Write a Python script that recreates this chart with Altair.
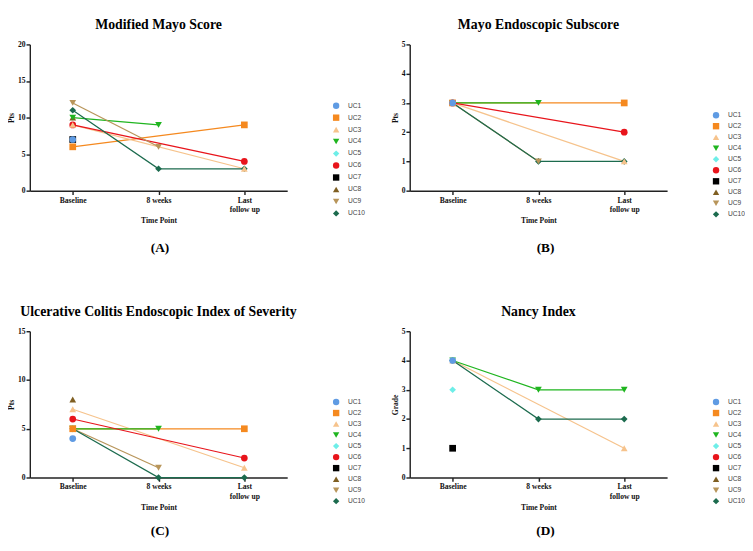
import altair as alt
import pandas as pd

SERIF = "Liberation Serif"
SANS = "Liberation Sans"

subjects = ["UC1", "UC2", "UC3", "UC4", "UC5", "UC6", "UC7", "UC8", "UC9", "UC10"]
colors = ["#5F9BE3", "#F5891F", "#F6C38C", "#1FB51F", "#6EEEE8",
          "#E8141B", "#000000", "#7F5F22", "#B8955A", "#1C6B4E"]
shapes = ["circle", "square", "triangle-up", "triangle-down", "diamond",
          "circle", "square", "triangle-up", "triangle-down", "diamond"]
times = ["Baseline", "8 weeks", "Last follow up"]

N = None
# Modified Mayo Score
mms_baseline = [7, 6, 9, 10, N, 9, 7, 10, 12, 11]
mms_8wk = [N, N, N, 9, N, N, N, N, 6, 3]
mms_last = [N, 9, 3, N, N, 4, N, N, N, 3]
# Mayo Endoscopic Subscore
mes_baseline = [3, 3, 3, 3, N, 3, N, 3, 3, 3]
mes_8wk = [N, N, N, 3, N, N, N, N, 1, 1]
mes_last = [N, 3, 1, N, N, 2, N, N, N, 1]
# UCEIS
uceis_baseline = [4, 5, 7, 5, N, 6, N, 8, 5, 5]
uceis_8wk = [N, N, N, 5, N, N, N, N, 1, 0]
uceis_last = [N, 5, 1, N, N, 2, N, N, N, 0]
# Nancy Index
nancy_baseline = [4, N, 4, 4, 3, N, 1, N, N, 4]
nancy_8wk = [N, N, N, 3, N, N, N, N, N, 2]
nancy_last = [N, N, 1, 3, N, N, N, N, N, 2]

W, H = 271, 154


def panel(title, base, wk, last, ytitle, ymax, ystep, legend_y, row_pad,
          caption, cap_x, cap_y):
    rows = []
    for i, s in enumerate(subjects):
        for ti, (t, vals) in enumerate(zip(times, (base, wk, last))):
            v = vals[i]
            if v is not None:
                rows.append({"subject": s, "time": t, "value": v, "idx": i, "tidx": ti})
    df = pd.DataFrame(rows)
    x = alt.X("time:N",
              scale=alt.Scale(type="point", domain=times, padding=0.5),
              axis=alt.Axis(title="Time Point", labelAngle=0,
                            labelExpr="datum.label == 'Last follow up' ? ['Last', 'follow up'] : datum.label",
                            labelLineHeight=10, labelPadding=2, titlePadding=4))
    y = alt.Y("value:Q",
              scale=alt.Scale(domain=[0, ymax], nice=False, zero=True),
              axis=alt.Axis(title=ytitle, values=list(range(0, ymax + 1, ystep)),
                            labelPadding=1, titlePadding=2))
    cscale = alt.Scale(domain=subjects, range=colors)
    sscale = alt.Scale(domain=subjects, range=shapes)
    # separate (reversed) domain for the line colours so it is not merged with the legend
    lscale = alt.Scale(domain=subjects[::-1], range=colors[::-1])
    leg = alt.Legend(orient="none", legendX=318, legendY=legend_y, title=None,
                     labelFont=SANS, labelFontSize=7, labelColor="#444",
                     symbolSize=45, rowPadding=row_pad, labelOffset=8)
    c = alt.Chart(df)
    lines = c.mark_line(strokeWidth=1.3).encode(
        x=x, y=y,
        stroke=alt.Stroke("subject:N", scale=lscale, legend=None),
        detail="subject:N",
        order=alt.Order("tidx:Q"))
    points = c.mark_point(filled=True, size=50, opacity=1).encode(
        x=x, y=y,
        color=alt.Color("subject:N", scale=cscale, legend=leg),
        shape=alt.Shape("subject:N", scale=sscale, legend=leg),
        order=alt.Order("idx:Q", sort="descending"))
    cap = alt.Chart(pd.DataFrame({"t": [caption]})).mark_text(
        font=SERIF, fontWeight="bold", fontSize=14, color="black", baseline="middle"
    ).encode(text="t:N", x=alt.value(cap_x), y=alt.value(cap_y))
    return alt.layer(lines, points, cap).properties(
        width=W, height=H,
        title=alt.Title(title, font=SERIF, fontSize=14.5, fontWeight="bold",
                        color="black", anchor="middle", frame="group", offset=9))


pA = panel("Modified Mayo Score", mms_baseline, mms_8wk, mms_last, "Pts", 20, 5,
           60, 4.6, "(A)", 137, H + 61)
pB = panel("Mayo Endoscopic Subscore", mes_baseline, mes_8wk, mes_last, "Pts", 5, 1,
           70, 3.6, "(B)", 143, H + 61)
pC = panel("Ulcerative Colitis Endoscopic Index of Severity", uceis_baseline, uceis_8wk,
           uceis_last, "Pts", 15, 5, 70, 3.6, "(C)", 137, H + 56)
pD = panel("Nancy Index", nancy_baseline, nancy_8wk, nancy_last, "Grade", 5, 1,
           70, 3.6, "(D)", 143, H + 56)

res = dict(color="independent", shape="independent", stroke="independent")
top = alt.hconcat(pA, pB, spacing=28).resolve_scale(**res)
bottom = alt.hconcat(pC, pD, spacing=28).resolve_scale(**res)
chart = alt.vconcat(top, bottom, spacing=51).resolve_scale(**res).configure_axis(
    labelFont=SERIF, labelFontWeight="bold", labelFontSize=8, labelColor="#111",
    titleFont=SERIF, titleFontWeight="bold", titleFontSize=8, titleColor="#111",
    domainColor="#222", domainWidth=1.5, tickColor="#222", tickWidth=1.5, tickSize=4,
    grid=False
).configure_view(stroke=None).properties(
    background="white", padding={"left": 0, "top": -5, "right": 0, "bottom": 0})

chart.save("out.html", embed_options={"renderer": "svg", "actions": False})
